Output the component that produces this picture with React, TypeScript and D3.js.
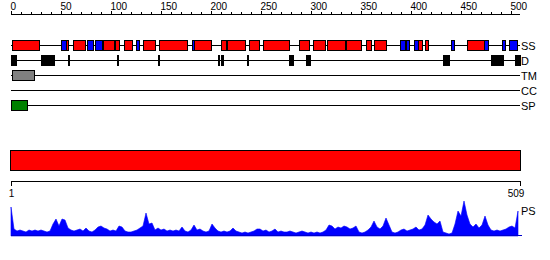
import React from "react";
import * as d3 from "d3";

const SEQ_LENGTH = 509;
const topTickValues = [0, 50, 100, 150, 200, 250, 300, 350, 400, 450, 500];
const trackLabels = ["SS", "D", "TM", "CC", "SP"];

const helices: [number, number][] = [
  [2, 28], [56, 57], [63, 74], [93, 103], [105, 108], [114, 121], [133, 144],
  [149, 176], [184, 200], [211, 215], [217, 234], [239, 248], [253, 278],
  [289, 298], [303, 314], [317, 334], [336, 350], [356, 360], [364, 375],
  [408, 411], [415, 417], [457, 473],
];
const strands: [number, number][] = [
  [51, 55], [77, 82], [85, 91], [126, 128], [182, 183], [390, 394], [396, 398],
  [404, 407], [441, 443], [474, 477], [492, 494], [499, 506],
];
const disorder: [number, number][] = [
  [1, 5], [31, 43], [58, 58], [107, 107], [148, 148], [208, 208], [211, 212],
  [237, 237], [279, 282], [296, 299], [433, 438], [481, 492], [505, 509],
];
const transmembrane: [number, number][] = [[2, 23]];
const coiledCoil: [number, number][] = [];
const signalPeptide: [number, number][] = [[1, 16]];

// PS profile, sampled every 3 residues starting at residue 1
const PS_STEP = 3;
const psScores = [
  29, 7, 5, 6, 5, 4, 6, 5, 6, 5, 6, 5, 4, 5, 12, 17, 10, 17, 16, 8,
  6, 5, 6, 7, 5, 8, 5, 4, 6, 9, 10, 8, 7, 5, 6, 5, 10, 9, 5, 4,
  4, 5, 6, 8, 10, 23, 12, 13, 6, 8, 6, 7, 5, 6, 5, 6, 5, 9, 5, 4,
  6, 11, 6, 7, 5, 4, 5, 12, 8, 5, 4, 5, 4, 5, 8, 5, 4, 3, 4, 3,
  4, 5, 7, 7, 5, 6, 4, 5, 7, 4, 5, 4, 4, 5, 4, 3, 4, 5, 4, 3,
  4, 3, 4, 3, 4, 6, 11, 10, 7, 9, 8, 10, 9, 7, 8, 10, 4, 3, 4, 6,
  9, 15, 9, 7, 10, 18, 11, 4, 3, 4, 6, 7, 5, 6, 7, 9, 6, 7, 11, 21,
  17, 14, 12, 15, 4, 3, 2, 3, 12, 25, 20, 35, 21, 12, 9, 12, 8, 11, 20, 11,
  6, 5, 6, 5, 6, 7, 9, 10, 8, 25,
];

const FONT = "'Liberation Sans', Arial, sans-serif";

export default function App() {
  const x = d3.scaleLinear().domain([0, SEQ_LENGTH]).range([11, 520]);
  const rowY = [45.5, 60.5, 75.5, 90.5, 105.5];
  const psY = d3.scaleLinear().domain([0, 35]).range([236, 201]);

  const boxes = (ranges: [number, number][], rowIdx: number, fill: string, key: string) =>
    ranges.map(([s, e], i) => (
      <rect
        key={key + i}
        x={x(s - 1) + 0.5}
        y={rowY[rowIdx] - 5}
        width={x(e) - x(s - 1)}
        height={10}
        fill={fill}
        stroke="#000"
        strokeWidth={1}
      />
    ));

  const minorTicks = d3.range(0, 510, 10);

  const psPoints: [number, number][] = psScores.map((v, i) => [1 + i * PS_STEP, v]);
  const area = d3
    .area<[number, number]>()
    .x((d) => x(d[0] - 1))
    .y0(psY(0))
    .y1((d) => psY(d[1]));

  return (
    <svg
      width={550}
      height={260}
      style={{ position: "absolute", left: 0, top: 0, background: "#fff" }}
      fontFamily={FONT}
    >
      <rect x={0} y={0} width={550} height={260} fill="#fff" />
      {/* top axis */}
      <line x1={x(0)} x2={x(SEQ_LENGTH)} y1={14.5} y2={14.5} stroke="#000" />
      {minorTicks.map((t) => (
        <line
          key={"t" + t}
          x1={x(t) + 0.5}
          x2={x(t) + 0.5}
          y1={t % 50 === 0 ? 11 : 12}
          y2={14.5}
          stroke="#000"
        />
      ))}
      {topTickValues.map((t) => (
        <text key={"l" + t} x={x(t) - 0.5} y={10} fontSize={10} textAnchor="start" fill="#000">
          {t}
        </text>
      ))}

      {/* track lines */}
      {rowY.map((y, i) => (
        <g key={"row" + i}>
          <line x1={x(0)} x2={x(SEQ_LENGTH)} y1={y} y2={y} stroke="#000" />
          <text x={521} y={y + 4.5} fontSize={11} fill="#000">
            {trackLabels[i]}
          </text>
        </g>
      ))}
      {boxes(helices, 0, "#ff0000", "h")}
      {boxes(strands, 0, "#0000ff", "e")}
      {boxes(disorder, 1, "#000000", "d")}
      {boxes(transmembrane, 2, "#808080", "tm")}
      {boxes(coiledCoil, 3, "#ffff00", "cc")}
      {boxes(signalPeptide, 4, "#008000", "sp")}

      {/* whole-sequence bar */}
      <rect
        x={x(0) - 0.5}
        y={150.5}
        width={x(SEQ_LENGTH) - x(0) + 1}
        height={20}
        fill="#ff0000"
        stroke="#000"
      />
      {/* bottom axis */}
      <line x1={x(0)} x2={x(SEQ_LENGTH) + 1} y1={181.5} y2={181.5} stroke="#000" />
      <line x1={x(0) + 0.5} x2={x(0) + 0.5} y1={181.5} y2={186} stroke="#000" />
      <line x1={x(SEQ_LENGTH) + 0.5} x2={x(SEQ_LENGTH) + 0.5} y1={181.5} y2={186} stroke="#000" />
      <text x={x(0) + 0.5} y={197} fontSize={10} textAnchor="middle" fill="#000">1</text>
      <text x={x(SEQ_LENGTH) - 4} y={197} fontSize={10} textAnchor="middle" fill="#000">
        {SEQ_LENGTH}
      </text>

      {/* PS profile */}
      <path d={area(psPoints) || ""} fill="#0000ff" stroke="#0000ff" strokeWidth={0.6} />
      <line x1={x(0)} x2={x(SEQ_LENGTH) + 2} y1={235.5} y2={235.5} stroke="#0000cc" />
      <text x={521} y={215} fontSize={11} fill="#000">PS</text>
    </svg>
  );
}
